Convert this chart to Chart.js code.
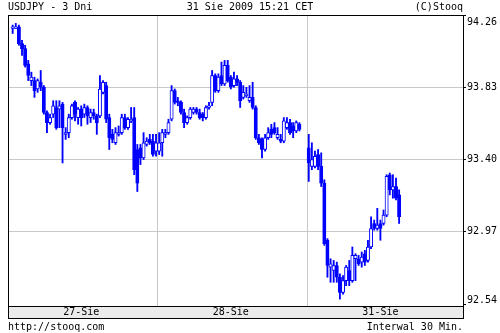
<!DOCTYPE html>
<html lang="pl">
<head>
<meta charset="utf-8">
<title>USDJPY - 3 Dni</title>
<script src="https://cdn.jsdelivr.net/npm/chart.js"></script>
<style>
  html, body { margin: 0; padding: 0; background: #fff; }
  #wrap { position: relative; width: 500px; height: 333px; }
  #Chart { position: absolute; left: 0; top: 0; }
  .txt { position: absolute; font: 10px/12px "DejaVu Sans Mono", monospace; color: #000; white-space: pre; }
</style>
</head>
<body>
<div id="wrap">
  <canvas id="Chart" width="500" height="333"></canvas>
  <div class="txt" style="left:8px;top:1px">USDJPY - 3 Dni</div>
  <div class="txt" style="left:0;width:500px;top:1px;text-align:center">31 Sie 2009 15:21 CET</div>
  <div class="txt" style="right:37px;top:1px">(C)Stooq</div>
  <div class="txt" style="left:8px;top:321px">http://stooq.com</div>
  <div class="txt" style="right:37px;top:321px">Interwal 30 Min.</div>
</div>
<script>
const days = ['27-Sie', '28-Sie', '31-Sie'];
const yTicks = [92.54, 92.97, 93.40, 93.83, 94.26];

// swiece 30 min, jeden slot = pol godziny; null = brak notowan
const open = [null,
  94.18, 94.18, 94.19, 94.09, 94.06, 93.97, 93.87, 93.87, 93.82, 93.86,
  93.83, 93.68, 93.62, 93.67, 93.71, 93.70, 93.73, 93.55, 93.56, 93.65,
  93.74, 93.65, 93.70, 93.67, 93.71, 93.65, 93.68, 93.66, 93.66, 93.80,
  93.84, 93.65, 93.55, 93.50, 93.55, 93.56, 93.65, 93.59, 93.63, 93.65,
  93.46, 93.47, 93.41, 93.49, 93.52, 93.51, 93.45,
  93.45, 93.50, 93.55, 93.56, 93.64, 93.81, 93.75, 93.74, 93.68, 93.62,
  93.65, 93.68, 93.70, 93.68, 93.67, 93.65, 93.71, 93.74, 93.90, 93.81,
  93.90, 93.85, 93.96, 93.89, 93.84, 93.88, 93.86, 93.77, 93.78, 93.75,
  93.77, 93.71, 93.53, 93.52, 93.46, 93.53, 93.58, 93.59, 93.53, 93.52,
  93.51, 93.59, 93.62, 93.60, 93.57, 93.61,
  null, null,
  93.47, 93.36, 93.36, 93.43, 93.36, 93.26, 92.92, 92.76, 92.74, 92.77,
  92.70, 92.61, 92.68, 92.74, 92.68, 92.81, 92.81, 92.79, 92.84, 92.80,
  92.88, 93.02, 92.99, 93.02, 93.02, 93.07, 93.31, 93.22, 93.24, 93.19];

const high = [null,
  94.20, 94.21, 94.20, 94.11, 94.08, 93.99, 93.92, 93.89, 93.88, 93.93,
  93.84, 93.69, 93.67, 93.75, 93.75, 93.75, 93.74, 93.59, 93.67, 93.73,
  93.75, 93.71, 93.72, 93.73, 93.72, 93.70, 93.70, 93.67, 93.90, 93.87,
  93.86, 93.67, 93.58, 93.59, 93.60, 93.67, 93.67, 93.65, 93.71, 93.71,
  93.49, 93.49, 93.56, 93.53, 93.55, 93.55, 93.55,
  93.56, 93.58, 93.58, 93.64, 93.84, 93.82, 93.77, 93.75, 93.70, 93.66,
  93.71, 93.71, 93.71, 93.70, 93.68, 93.72, 93.74, 93.93, 93.91, 93.91,
  93.98, 93.99, 93.99, 93.90, 93.92, 93.90, 93.87, 93.84, 93.83, 93.84,
  93.86, 93.72, 93.55, 93.53, 93.55, 93.59, 93.61, 93.62, 93.59, 93.55,
  93.65, 93.65, 93.64, 93.62, 93.63, 93.62,
  null, null,
  93.55, 93.50, 93.45, 93.46, 93.44, 93.28, 92.93, 92.81, 92.80, 92.79,
  92.72, 92.71, 92.77, 92.80, 92.88, 92.84, 92.83, 92.85, 92.86, 92.92,
  93.06, 93.04, 93.11, 93.04, 93.10, 93.31, 93.32, 93.31, 93.29, 93.22];

const low = [null,
  94.15, 94.18, 94.08, 94.02, 93.95, 93.87, 93.84, 93.77, 93.80, 93.81,
  93.67, 93.56, 93.61, 93.65, 93.58, 93.59, 93.38, 93.52, 93.53, 93.64,
  93.63, 93.61, 93.60, 93.65, 93.61, 93.62, 93.64, 93.55, 93.65, 93.79,
  93.62, 93.46, 93.50, 93.49, 93.54, 93.55, 93.58, 93.58, 93.62, 93.31,
  93.21, 93.37, 93.40, 93.48, 93.49, 93.42, 93.42,
  93.43, 93.42, 93.53, 93.55, 93.63, 93.73, 93.72, 93.67, 93.59, 93.61,
  93.64, 93.67, 93.67, 93.64, 93.63, 93.64, 93.70, 93.72, 93.80, 93.80,
  93.84, 93.84, 93.86, 93.82, 93.83, 93.84, 93.71, 93.76, 93.77, 93.74,
  93.70, 93.52, 93.49, 93.41, 93.45, 93.52, 93.53, 93.55, 93.52, 93.50,
  93.50, 93.58, 93.55, 93.53, 93.56, 93.57,
  null, null,
  93.27, 93.34, 93.35, 93.34, 93.24, 92.89, 92.70, 92.67, 92.67, 92.67,
  92.57, 92.60, 92.65, 92.65, 92.67, 92.68, 92.77, 92.76, 92.77, 92.79,
  92.87, 92.98, 92.98, 92.92, 93.01, 93.06, 93.19, 93.17, 93.16, 93.02];

const close = [null,
  94.19, 94.19, 94.09, 94.06, 93.96, 93.90, 93.89, 93.81, 93.87, 93.83,
  93.68, 93.62, 93.65, 93.72, 93.59, 93.72, 93.59, 93.56, 93.65, 93.72,
  93.67, 93.70, 93.65, 93.71, 93.66, 93.68, 93.66, 93.62, 93.82, 93.86,
  93.64, 93.53, 93.52, 93.56, 93.56, 93.65, 93.59, 93.64, 93.64, 93.34,
  93.26, 93.41, 93.50, 93.51, 93.50, 93.43, 93.50,
  93.50, 93.56, 93.56, 93.62, 93.81, 93.74, 93.74, 93.68, 93.62, 93.65,
  93.70, 93.70, 93.68, 93.65, 93.65, 93.71, 93.72, 93.90, 93.81, 93.89,
  93.85, 93.96, 93.87, 93.83, 93.88, 93.86, 93.75, 93.80, 93.79, 93.77,
  93.71, 93.53, 93.50, 93.46, 93.53, 93.56, 93.55, 93.56, 93.55, 93.51,
  93.63, 93.62, 93.56, 93.57, 93.62, 93.58,
  null, null,
  93.38, 93.40, 93.42, 93.36, 93.26, 92.90, 92.77, 92.78, 92.77, 92.70,
  92.61, 92.68, 92.76, 92.68, 92.83, 92.83, 92.78, 92.82, 92.79, 92.88,
  92.99, 92.99, 93.01, 92.99, 93.07, 93.30, 93.22, 93.24, 93.17, 93.06];

const BLUE = '#0000ff';
const GRID = '#c8c8c8';
const tickFont = { family: 'DejaVu Sans Mono', size: 10 };

// 48 polgodzinnych slotow na dzien + 2 puste na prawym marginesie
const labels = [];
days.forEach(d => {
  for (let i = 0; i < 48; i++) {
    const hh = String(Math.floor(i / 2)).padStart(2, '0');
    labels.push(d + ' ' + hh + (i % 2 ? ':30' : ':00'));
  }
});
labels.push('', '');

const bodies = open.map((o, i) => (o == null ? null : [o, close[i]]));
const wicks = low.map((l, i) => (l == null ? null : [l, high[i]]));
const bodyColors = open.map((o, i) => (o != null && close[i] >= o ? '#ffffff' : BLUE));

// szary pasek pod osia X + czarna ramka
const frame = {
  id: 'frame',
  beforeDraw(chart) {
    const { ctx, chartArea: a, scales: { x } } = chart;
    ctx.save();
    ctx.fillStyle = '#ebebeb';
    ctx.fillRect(a.left, x.top, a.right - a.left, x.bottom - x.top);
    ctx.restore();
  },
  afterDraw(chart) {
    const { ctx, chartArea: a, scales: { x } } = chart;
    ctx.save();
    ctx.strokeStyle = '#000';
    ctx.lineWidth = 1;
    ctx.strokeRect(a.left + 0.5, a.top + 0.5, a.right - a.left, x.bottom - a.top);
    ctx.beginPath();
    ctx.moveTo(a.left, a.bottom + 0.5);
    ctx.lineTo(a.right + 1, a.bottom + 0.5);
    ctx.stroke();
    ctx.restore();
  }
};

const chart = new Chart(document.getElementById('Chart').getContext('2d'), {
  type: 'bar',
  data: {
    labels: labels,
    datasets: [
      {
        label: 'USDJPY',
        data: bodies,
        backgroundColor: bodyColors,
        borderColor: BLUE,
        borderWidth: 1,
        borderSkipped: false,
        barThickness: 3.3,
        grouped: false,
        order: 0
      },
      {
        label: 'min-max',
        data: wicks,
        backgroundColor: BLUE,
        borderWidth: 0,
        barThickness: 1.2,
        grouped: false,
        order: 1
      }
    ]
  },
  options: {
    responsive: false,
    devicePixelRatio: 1,
    animation: false,
    events: [],
    layout: { padding: { left: 8, top: 15, right: 0, bottom: 15 } },
    plugins: {
      legend: { display: false },
      tooltip: { enabled: false }
    },
    scales: {
      x: {
        offset: true,
        afterFit(axis) { axis.height = 12; },
        border: { display: false },
        grid: {
          offset: true,
          drawTicks: false,
          color: c => (c.index === 48 || c.index === 96 ? GRID : 'rgba(0,0,0,0)')
        },
        ticks: {
          autoSkip: false,
          maxRotation: 0,
          minRotation: 0,
          padding: 0,
          color: '#000',
          font: tickFont,
          callback: (v, i) => (i % 48 === 23 ? days[Math.floor(i / 48)] : '')
        }
      },
      y: {
        position: 'right',
        min: 92.529,
        max: 94.26,
        afterBuildTicks(axis) { axis.ticks = yTicks.map(v => ({ value: v })); },
        afterFit(axis) { axis.width = 37; },
        border: { display: false },
        grid: {
          color: c => (c.index === 0 || c.index === yTicks.length - 1 ? 'rgba(0,0,0,0)' : GRID),
          tickColor: '#000',
          tickLength: 3
        },
        ticks: {
          padding: 1,
          color: '#000',
          // skrajne etykiety przesuniete do srodka wykresu
          font: c => ({
            ...tickFont,
            lineHeight: c.index === 0 ? 0.8 : (c.index === yTicks.length - 1 ? 1.4 : 1.2)
          }),
          callback: (v, i) => {
            const s = v.toFixed(2);
            if (i === 0) return [s, ''];
            if (i === yTicks.length - 1) return ['', s];
            return s;
          }
        }
      }
    }
  },
  plugins: [frame]
});
</script>
</body>
</html>
